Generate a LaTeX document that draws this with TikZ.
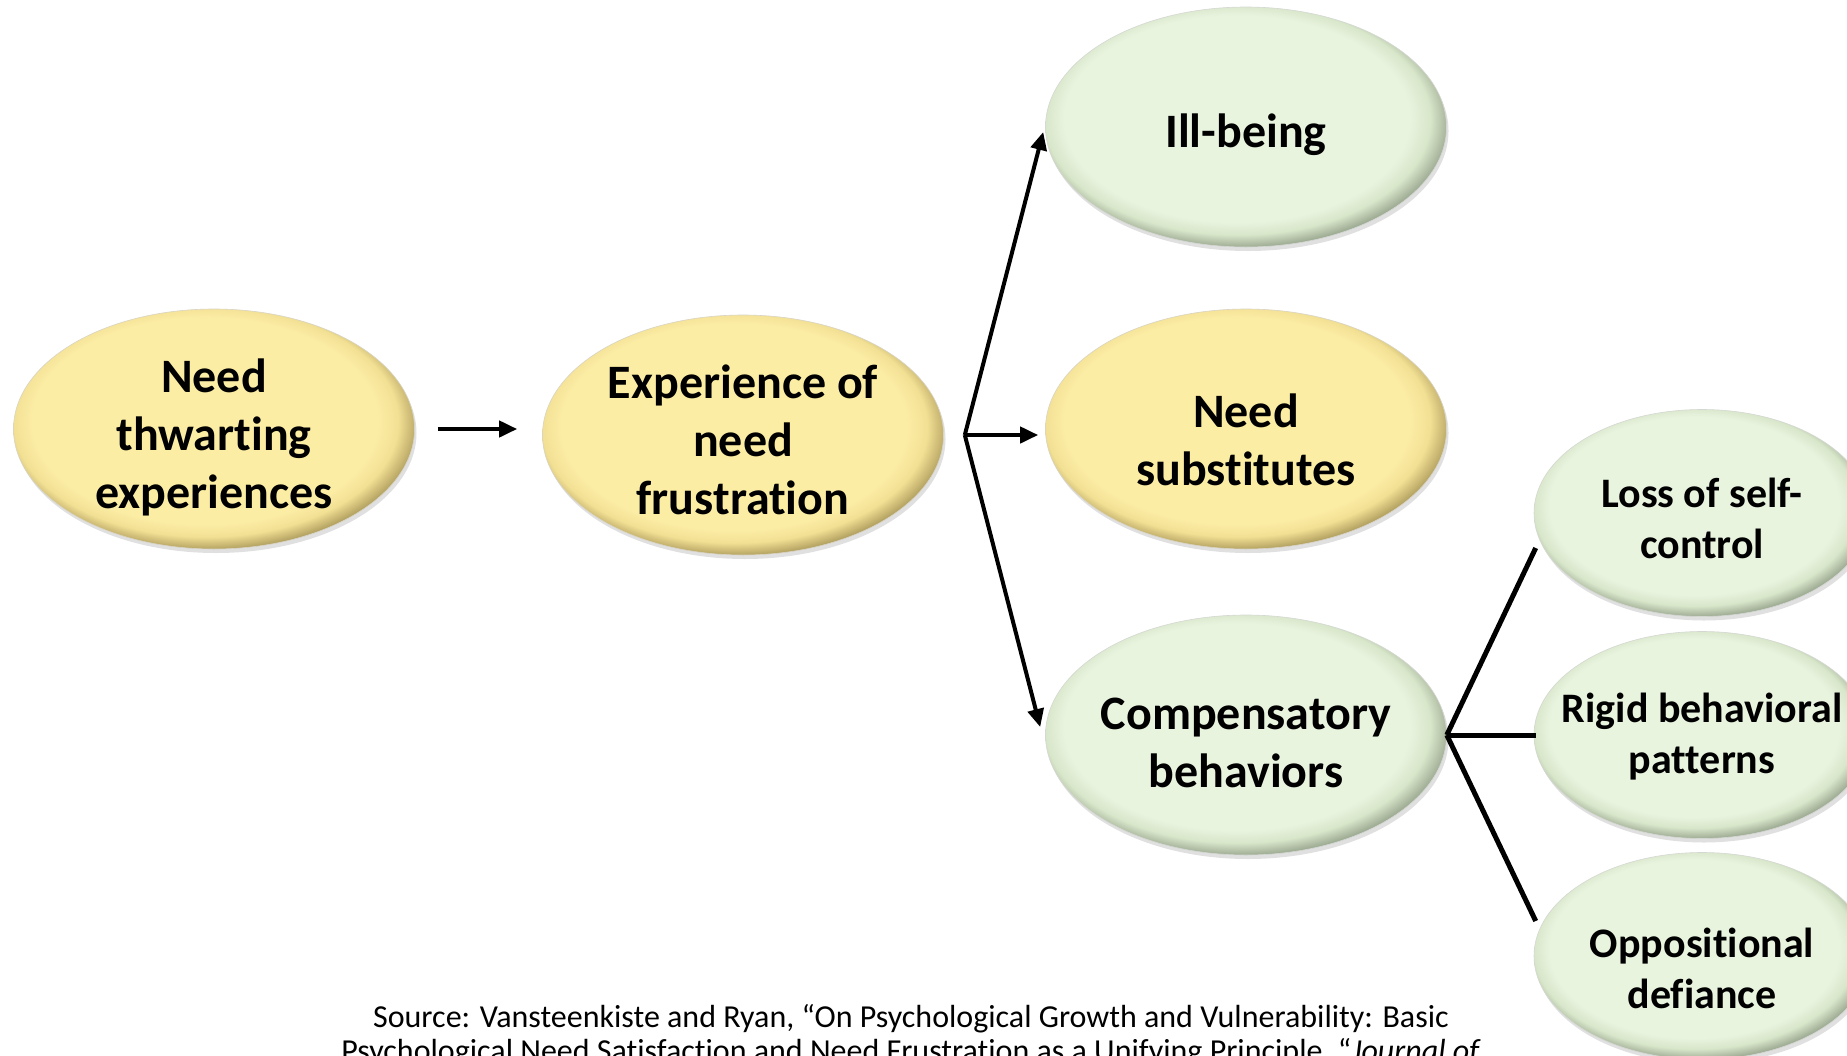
\documentclass[tikz,border=0pt]{standalone}
\usepackage{fontspec}
\setmainfont{Carlito}[Ligatures={NoCommon,NoRequired,NoContextual}]
\usetikzlibrary{shapes.geometric,arrows.meta,shadows}
\definecolor{yin}{RGB}{252,237,165}
\definecolor{ymid}{RGB}{242,224,148}
\definecolor{yout}{RGB}{130,112,58}
\definecolor{gin}{RGB}{233,244,223}
\definecolor{gmid}{RGB}{216,230,202}
\definecolor{gout}{RGB}{112,124,104}
\pgfdeclareradialshading{yelball}{\pgfpoint{-2bp}{3bp}}{color(0bp)=(yin);color(21.5bp)=(yin);color(24bp)=(ymid);color(26bp)=(ymid!55!yout);color(28.5bp)=(yout);color(50bp)=(yout)}
\pgfdeclareradialshading{grnball}{\pgfpoint{-2bp}{3bp}}{color(0bp)=(gin);color(21.5bp)=(gin);color(24bp)=(gmid);color(26bp)=(gmid!55!gout);color(28.5bp)=(gout);color(50bp)=(gout)}
\tikzset{
  bubble/.style={ellipse, inner sep=0pt,
    drop shadow={shadow xshift=2pt, shadow yshift=-4pt, opacity=0.12, fill=black}},
  yelbig/.style={bubble, shading=yelball, draw=yout!30, line width=0.6pt, minimum width=401pt, minimum height=240pt},
  grnbig/.style={bubble, shading=grnball, draw=gout!30, line width=0.6pt, minimum width=401pt, minimum height=240pt},
  grnsmall/.style={bubble, shading=grnball, draw=gout!30, line width=0.6pt, minimum width=336pt, minimum height=207pt},
  bigtxt/.style={font=\fontsize{48}{58}\selectfont\bfseries, align=center, inner sep=0pt, text=black},
  smalltxt/.style={font=\fontsize{42}{51}\selectfont\bfseries, align=center, inner sep=0pt, text=black},
  arr/.style={line width=4pt, -{Triangle[length=18pt,width=16pt]}},
  lnk/.style={line width=5pt},
  srctxt/.style={font=\fontsize{32}{34}\selectfont, align=center, inner sep=0pt}
}
\begin{document}
\begin{tikzpicture}[x=1pt,y=-1pt]
\useasboundingbox (0,0) rectangle (1847,1055);
\clip (0,0) rectangle (1847,1055);
\fill[white] (0,0) rectangle (1847,1055);

\node[yelbig, label={[bigtxt, yshift=-8pt]center:Need\\thwarting\\experiences}] (thw) at (214,429) {};
\node[yelbig, label={[bigtxt, yshift=-5pt]center:Experience of\\need\\frustration}] (fru) at (743,435) {};
\node[grnbig, label={[bigtxt, yshift=-8pt]center:Ill-being}] (ill) at (1246,127) {};
\node[yelbig, label={[bigtxt, yshift=-11pt]center:Need\\substitutes}] (sub) at (1246,429) {};
\node[grnbig, label={[bigtxt, yshift=-8pt]center:Compensatory\\behaviors}] (comp) at (1246,735) {};
\node[grnsmall, label={[smalltxt, yshift=-5pt]center:Loss of self-\\control}] (loss) at (1702,513) {};
\node[grnsmall, label={[smalltxt, yshift=-2pt]center:Rigid behavioral\\patterns}] (rigid) at (1702,735) {};
\node[grnsmall, label={[smalltxt, yshift=-12pt]center:Oppositional\\defiance}] (opp) at (1702,956) {};

\draw[arr] ([xshift=23pt]thw.east) -- ([xshift=-25pt]fru.west |- thw.east);
\coordinate (br) at ([xshift=21pt]fru.east);
\draw[arr] (br) -- ([xshift=-2pt,yshift=-5pt]ill.west);
\draw[arr] (br) -- ([xshift=-7pt]sub.west |- br);
\draw[arr] (br) -- ([xshift=-5pt,yshift=8pt]comp.west);

\draw[lnk] (comp.east) -- ([xshift=2pt,yshift=-35pt]loss.west);
\draw[lnk] (comp.east) -- ([xshift=2pt]rigid.west);
\draw[lnk] (comp.east) -- ([xshift=2pt,yshift=35pt]opp.west);

\node[srctxt, anchor=north] (src) at (911,1004) {Source: Vansteenkiste and Ryan, “On Psychological Growth and Vulnerability: Basic\\Psychological Need Satisfaction and Need Frustration as a Unifying Principle, “\textit{Journal of}};
\end{tikzpicture}
\end{document}
